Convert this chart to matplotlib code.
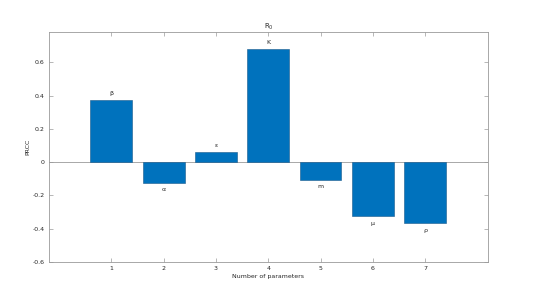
import matplotlib
matplotlib.use("Agg")
import matplotlib.pyplot as plt

# PRCC values per parameter
param_index = [1, 2, 3, 4, 5, 6, 7]
param_names = ["β", "α", "ε", "K", "m", "μ", "ρ"]
prcc = [0.372, -0.124, 0.060, 0.680, -0.108, -0.326, -0.368]
y_ticks = [-0.6, -0.4, -0.2, 0, 0.2, 0.4, 0.6]

BLUE = "#0072BD"
GREY = "#9a9a9a"
TXT = "#262626"

plt.rcParams["font.family"] = ["DejaVu Sans"]

fig = plt.figure(figsize=(5.36, 2.97), dpi=100)
ax = fig.add_axes([49 / 536, 1 - 262 / 297, (488 - 49) / 536, (262 - 31.7) / 297])

ax.bar(param_index, prcc, width=0.8, color=BLUE, edgecolor="#1a5a8c", linewidth=0.4, zorder=2)
ax.axhline(0, color=GREY, linewidth=0.6, zorder=1)

# parameter names above / below the bars
for x, v, name in zip(param_index, prcc, param_names):
    off = 0.025 if v >= 0 else -0.025
    ax.text(x, v + off, name, ha="center", va="bottom" if v >= 0 else "top",
            fontsize=4.5, color=TXT)

ax.set_xlim(-0.19, 8.2)
ax.set_ylim(-0.6, 0.784)
ax.set_xticks(param_index)
ax.set_yticks(y_ticks)
ax.set_yticklabels(["-0.6", "-0.4", "-0.2", "0", "0.2", "0.4", "0.6"])
ax.tick_params(direction="in", length=3, width=0.5, colors=GREY, labelcolor=TXT,
               labelsize=4.5, top=True, right=True, pad=3)
for s in ax.spines.values():
    s.set_color(GREY)
    s.set_linewidth(0.6)

ax.set_title("R$_0$", fontsize=5, color=TXT, pad=2)
ax.set_xlabel("Number of parameters", fontsize=4.5, color=TXT, labelpad=2)
ax.set_ylabel("PRCC", fontsize=4.5, color=TXT, labelpad=2)

fig.savefig("out.png", dpi=100)
